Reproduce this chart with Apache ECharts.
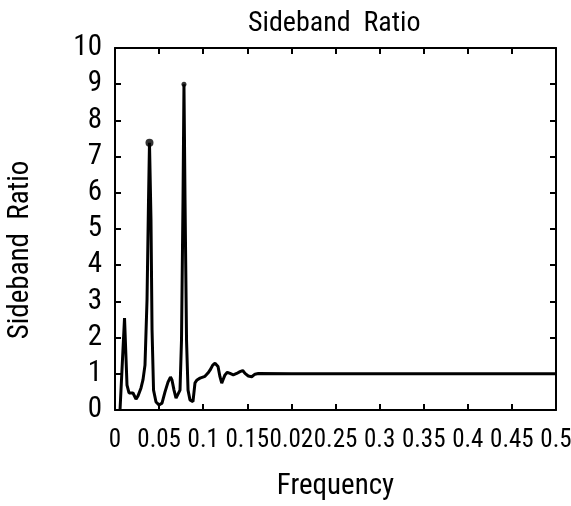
<!DOCTYPE html>
<html>
<head>
<meta charset="utf-8">
<script src="https://cdn.jsdelivr.net/npm/echarts@6/dist/echarts.min.js"></script>
<style>html,body{margin:0;padding:0;background:#fff}#chart{width:571px;height:506px}</style>
</head>
<body>
<div id="chart"></div>
<script>
const titleText = 'Sideband  Ratio';
const xName = 'Frequency';
const yName = 'Sideband  Ratio';
const xTickLabels = ['0', '0.05', '0.1', '0.15', '0.02', '0.25', '0.3', '0.35', '0.4', '0.45', '0.5'];
const freq = [0.0057, 0.0079, 0.0108, 0.0136, 0.0159, 0.0181, 0.0204, 0.0238, 0.0261, 0.0295, 0.0317, 0.0340, 0.0363, 0.0380, 0.0391, 0.0408, 0.0420, 0.0437, 0.0465, 0.0499, 0.0533, 0.0567, 0.0601, 0.0629, 0.0646, 0.0669, 0.0692, 0.0714, 0.0737, 0.0754, 0.0771, 0.0782, 0.0794, 0.0811, 0.0828, 0.0850, 0.0884, 0.0907, 0.0930, 0.0964, 0.0986, 0.1020, 0.1054, 0.1077, 0.1108, 0.1134, 0.1168, 0.1190, 0.1210, 0.1224, 0.1247, 0.1273, 0.1304, 0.1341, 0.1380, 0.1417, 0.1448, 0.1474, 0.1511, 0.1550, 0.1587, 0.1625, 0.2, 0.3, 0.4, 0.5];
const ratio = [0, 1.10, 2.54, 0.69, 0.47, 0.44, 0.47, 0.30, 0.39, 0.61, 0.83, 1.24, 3.04, 5.80, 7.38, 5.25, 2.21, 0.55, 0.22, 0.14, 0.19, 0.50, 0.77, 0.91, 0.83, 0.55, 0.33, 0.36, 0.55, 1.93, 5.80, 9.0, 5.80, 1.93, 0.55, 0.28, 0.23, 0.75, 0.83, 0.88, 0.83, 0.93, 1.02, 1.10, 1.24, 1.29, 1.20, 0.92, 0.74, 0.83, 0.97, 1.04, 1.01, 0.97, 1.01, 1.06, 1.09, 1.01, 0.94, 0.92, 0.99, 1.01, 1.0, 1.0, 1.0, 1.0];
const peakFreq = [0.0391, 0.0782];
const peakRatio = [7.38, 9.0];

const FONT = "'Roboto Condensed', 'Open Sans Condensed', 'DejaVu Sans Condensed', sans-serif";
const chart = echarts.init(document.getElementById('chart'), null, {renderer: 'canvas'});
const lineData = freq.map((f, i) => [f, ratio[i]]);
const peakData = peakFreq.map((f, i) => [f, peakRatio[i]]);
const tickStyle = {show: true, inside: true, length: 6, lineStyle: {color: '#000', width: 2}};
const axisLine = {show: true, onZero: false, lineStyle: {color: '#000', width: 2}};
chart.setOption({
  animation: false,
  backgroundColor: '#fff',
  title: {
    text: titleText, left: 243, top: 5,
    textStyle: {fontFamily: FONT, fontSize: 28, fontWeight: 'normal', color: '#000'}
  },
  grid: {left: 115, right: 15, top: 48, bottom: 96, containLabel: false, outerBoundsMode: 'none'},
  xAxis: [{
    type: 'value', min: 0, max: 0.5, interval: 0.05,
    name: xName, nameLocation: 'middle', nameGap: 62,
    nameTextStyle: {fontFamily: FONT, fontSize: 29, color: '#000'},
    axisLine: axisLine, axisTick: tickStyle, splitLine: {show: false},
    axisLabel: {
      margin: 18, fontFamily: FONT, fontSize: 25, color: '#000', showMaxLabel: true, showMinLabel: true, hideOverlap: false,
      formatter: v => xTickLabels[Math.round(v / 0.05)]
    }
  }, {
    type: 'value', min: 0, max: 0.5, interval: 0.05, position: 'top',
    axisLine: axisLine, axisTick: tickStyle, axisLabel: {show: false}, splitLine: {show: false}
  }],
  yAxis: [{
    type: 'value', min: 0, max: 10, interval: 1,
    name: yName, nameLocation: 'middle', nameGap: 80, nameRotate: 90,
    nameTextStyle: {fontFamily: FONT, fontSize: 29, color: '#000', padding: [0, 42, 0, 0]},
    axisLine: axisLine, axisTick: tickStyle, splitLine: {show: false},
    axisLabel: {margin: 13, fontFamily: FONT, fontSize: 29, color: '#000'}
  }, {
    type: 'value', min: 0, max: 10, interval: 1, position: 'right',
    axisLine: axisLine, axisTick: tickStyle, axisLabel: {show: false}, splitLine: {show: false}
  }],
  series: [{
    type: 'line', data: lineData, showSymbol: false, smooth: false,
    lineStyle: {color: '#000', width: 3}, z: 3
  }, {
    type: 'scatter', data: peakData,
    symbolSize: (v, p) => (p.dataIndex === 0 ? 8 : 5),
    itemStyle: {color: '#000'}, z: 4
  }]
});
</script>
</body>
</html>
